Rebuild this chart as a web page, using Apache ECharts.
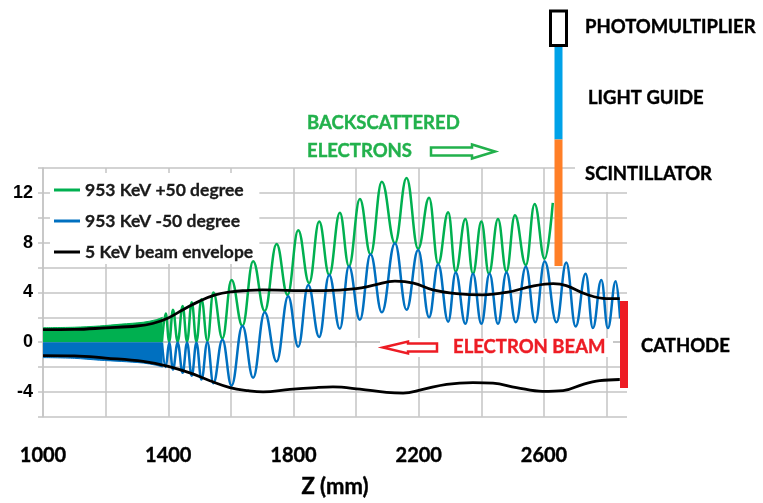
<!DOCTYPE html>
<html><head><meta charset="utf-8">
<script src="https://cdn.jsdelivr.net/npm/echarts@6/dist/echarts.min.js"></script>
<style>html,body{margin:0;padding:0;background:#fff}#c{width:763px;height:503px}</style>
</head><body><div id="c"></div>
<script>
// ---- data ----
const xTickLabels = [1000, 1400, 1800, 2200, 2600];
const yTickLabels = [-4, 0, 4, 8, 12];

// dense (unresolved) oscillation region, edge of the filled band
const greenBand = [[1000,1.16],[1100,1.2],[1180,1.3],[1250,1.45],[1320,1.6],[1360,1.8],[1382,2.0]];
const blueBand  = [[1000,-1.24],[1100,-1.3],[1180,-1.45],[1250,-1.55],[1320,-1.68],[1360,-1.85],[1382,-2.0]];

// 953 KeV +50 degree: alternating troughs / peaks
const green = [[1380,0.05],[1392,2.3],[1403,0.05],[1415,2.6],[1430,0.05],[1446,2.9],[1460,0.05],[1475,3.2],
  [1490,0.05],[1506,3.45],[1525,0.1],[1544,4.0],[1573,0.3],[1602,5.0],[1637,1.3],[1671,6.5],[1708,2.5],
  [1746,7.9],[1781,3.8],[1815,9.0],[1850,4.75],[1882,9.7],[1914,5.4],[1948,10.4],[1977,6.1],[2012,11.5],
  [2046,7.06],[2082,12.9],[2124,7.95],[2161,13.2],[2198,7.5],[2233,11.6],[2262,6.3],[2294,10.45],[2318,5.67],
  [2349,9.9],[2373,5.5],[2400,9.7],[2424,5.5],[2453,9.9],[2480,5.67],[2507,10.2],[2542,6.2],[2570,11.1],
  [2602,6.7],[2628,11.2]];

// 953 KeV -50 degree: alternating peaks / troughs
const blue = [[1380,-0.05],[1392,-2.0],[1403,-0.05],[1415,-2.2],[1430,-0.05],[1446,-2.45],[1460,-0.05],[1475,-2.7],
  [1490,-0.05],[1506,-3.0],[1525,0.0],[1544,-3.3],[1573,0.2],[1602,-3.5],[1637,1.3],[1671,-2.86],[1708,2.4],
  [1746,-1.55],[1783,3.7],[1815,-0.37],[1847,4.6],[1882,0.42],[1914,5.4],[1948,1.08],[1977,6.1],[2012,1.8],
  [2046,7.06],[2082,2.4],[2124,7.95],[2161,2.6],[2198,7.4],[2233,2.0],[2262,6.27],[2294,1.65],[2318,5.6],
  [2349,1.47],[2373,5.5],[2400,1.47],[2426,5.5],[2453,1.47],[2480,5.6],[2510,1.6],[2542,6.06],[2572,1.6],
  [2602,6.5],[2640,1.6],[2671,6.4],[2701,1.26],[2733,5.5],[2756,1.13],[2783,5.0],[2804,1.13],[2829,4.9],[2843,1.9]];

// 5 KeV beam envelope
const envelopeUpper = [[1000,1.0],[1100,1.02],[1200,1.15],[1300,1.3],[1350,1.5],[1400,1.95],[1450,2.65],[1500,3.3],
  [1550,3.8],[1600,4.05],[1650,4.15],[1700,4.2],[1800,4.15],[1900,4.15],[2000,4.3],[2060,4.6],[2124,4.9],
  [2183,4.75],[2245,4.2],[2320,3.9],[2405,3.8],[2480,4.0],[2564,4.5],[2629,4.7],[2671,4.55],[2735,3.85],
  [2799,3.5],[2842,3.5]];
const envelopeLower = [[1000,-1.08],[1100,-1.1],[1200,-1.28],[1320,-1.55],[1400,-1.94],[1469,-2.47],[1533,-3.1],
  [1597,-3.65],[1655,-3.9],[1703,-4.0],[1788,-3.8],[1873,-3.65],[1926,-3.6],[2012,-3.78],[2097,-4.04],
  [2150,-4.1],[2213,-3.8],[2289,-3.39],[2373,-3.25],[2437,-3.3],[2512,-3.65],[2596,-3.96],[2661,-3.9],
  [2725,-3.39],[2778,-3.1],[2842,-3.0]];

const names = ['953 KeV +50 degree', '953 KeV -50 degree', '5 KeV beam envelope'];
// ---------------------------------------

const GREEN = '#00b050', BLUE = '#0070c0', BLACK = '#000000';
const RED = '#ed1c24', ORANGE = '#ff7f27', LBLUE = '#00a2e8', AGREEN = '#22b14c';
const gridColor = '#c4c4c4';
const fontBold = 'bold 18.5px Lato';

const chart = echarts.init(document.getElementById('c'), null, {renderer: 'canvas'});

function txt(text, x, y, fill) {
  return {type: 'text', x: x, y: y, z: 101,
    style: {text: text, fill: fill, font: fontBold, align: 'left', verticalAlign: 'middle',
      stroke: fill, lineWidth: 0.4}};
}

chart.setOption({
  animation: false,
  backgroundColor: '#fff',
  grid: {left: 43, right: 136, top: 168, bottom: 80, containLabel: false},
  legend: {
    data: names, orient: 'vertical', left: 50, top: 173, z: 1,
    backgroundColor: '#fff', padding: [7, 6, 2, 4],
    icon: 'rect', itemWidth: 26, itemHeight: 3, itemGap: 11,
    textStyle: {fontFamily: 'Lato', fontWeight: 'bold', fontSize: 17.5, lineHeight: 20, color: '#1a1a1a',
      textBorderColor: '#1a1a1a', textBorderWidth: 0.3}
  },
  xAxis: {
    type: 'value', min: 1000, max: 2865, interval: 200,
    name: 'Z (mm)', nameLocation: 'middle', nameGap: 59,
    nameTextStyle: {fontFamily: 'Lato', fontWeight: 'bold', fontSize: 22, color: '#000',
      textBorderColor: '#000', textBorderWidth: 0.4},
    axisLine: {show: true, lineStyle: {color: gridColor, width: 1.5}},
    axisTick: {show: true, length: 5, lineStyle: {color: gridColor, width: 1.5}},
    splitLine: {show: true, showMaxLine: false, lineStyle: {color: gridColor, width: 1.5}},
    axisLabel: {
      margin: 29, fontFamily: 'Lato', fontWeight: 'bold', fontSize: 20, color: '#000',
      textBorderColor: '#000', textBorderWidth: 0.4,
      formatter: v => xTickLabels.indexOf(v) >= 0 ? String(v) : ''
    }
  },
  yAxis: {
    type: 'value', min: -6, max: 14, interval: 2,
    axisLine: {show: true, lineStyle: {color: gridColor, width: 1.5}},
    axisTick: {show: true, length: 5, lineStyle: {color: gridColor, width: 1.5}},
    splitLine: {show: true, lineStyle: {color: gridColor, width: 1.5}},
    axisLabel: {
      margin: 10, fontFamily: 'Liberation Sans', fontWeight: 'bold', fontSize: 18, color: '#000',
      formatter: v => yTickLabels.indexOf(v) >= 0 ? String(v) : ''
    }
  },
  series: [
    {name: 'band+', type: 'line', data: greenBand, smooth: 0.3, symbol: 'none', z: 2,
      lineStyle: {color: GREEN, width: 1}, itemStyle: {color: GREEN},
      areaStyle: {color: GREEN, opacity: 1, origin: 0}},
    {name: 'band-', type: 'line', data: blueBand, smooth: 0.3, symbol: 'none', z: 2,
      lineStyle: {color: BLUE, width: 1}, itemStyle: {color: BLUE},
      areaStyle: {color: BLUE, opacity: 1, origin: 0}},
    {name: names[0], type: 'line', data: green, smooth: 0.42, smoothMonotone: 'x', symbol: 'none', z: 3,
      lineStyle: {color: GREEN, width: 2.5}, itemStyle: {color: GREEN}},
    {name: names[1], type: 'line', data: blue, smooth: 0.42, smoothMonotone: 'x', symbol: 'none', z: 3,
      lineStyle: {color: BLUE, width: 2.5}, itemStyle: {color: BLUE}},
    {name: names[2], type: 'line', data: envelopeUpper, smooth: 0.4, symbol: 'none', z: 4,
      lineStyle: {color: BLACK, width: 2.8}, itemStyle: {color: BLACK}},
    {name: names[2], type: 'line', data: envelopeLower, smooth: 0.4, symbol: 'none', z: 4,
      lineStyle: {color: BLACK, width: 2.8}, itemStyle: {color: BLACK}}
  ],
  graphic: [
    // white text boxes hiding grid lines
    {type: 'rect', z: 99, shape: {x: 575, y: 155, width: 65, height: 37}, style: {fill: '#fff'}},
    {type: 'rect', z: 99, shape: {x: 380, y: 338, width: 233, height: 19}, style: {fill: '#fff'}},
    // detector column
    {type: 'rect', z: 100, shape: {x: 550.5, y: 11, width: 16, height: 34.5},
      style: {fill: '#fff', stroke: '#000', lineWidth: 3}},
    {type: 'rect', z: 100, shape: {x: 554.5, y: 47, width: 8, height: 92.5}, style: {fill: LBLUE}},
    {type: 'rect', z: 100, shape: {x: 554.5, y: 139.5, width: 8, height: 126.5}, style: {fill: ORANGE}},
    // cathode
    {type: 'rect', z: 100, shape: {x: 620, y: 301, width: 8, height: 87}, style: {fill: RED}},
    // arrows
    {type: 'polygon', z: 100, shape: {points: [[431,147.5],[472,147.5],[472,144.5],[495,151.5],[472,158.5],[472,155.5],[431,155.5]]},
      style: {fill: '#fff', stroke: AGREEN, lineWidth: 2.5}},
    {type: 'polygon', z: 100, shape: {points: [[383,347.5],[408,341.5],[408,343.5],[437,343.5],[437,351.5],[408,351.5],[408,353.5]]},
      style: {fill: '#fff', stroke: RED, lineWidth: 2.5}},
    // labels
    txt('PHOTOMULTIPLIER', 585, 27, '#000'),
    txt('LIGHT GUIDE', 588, 98, '#000'),
    txt('SCINTILLATOR', 585, 174, '#000'),
    txt('BACKSCATTERED', 307, 123, AGREEN),
    txt('ELECTRONS', 307, 151.5, AGREEN),
    txt('ELECTRON BEAM', 453, 347, RED),
    txt('CATHODE', 641, 346, '#000')
  ]
});
</script>
</body></html>
